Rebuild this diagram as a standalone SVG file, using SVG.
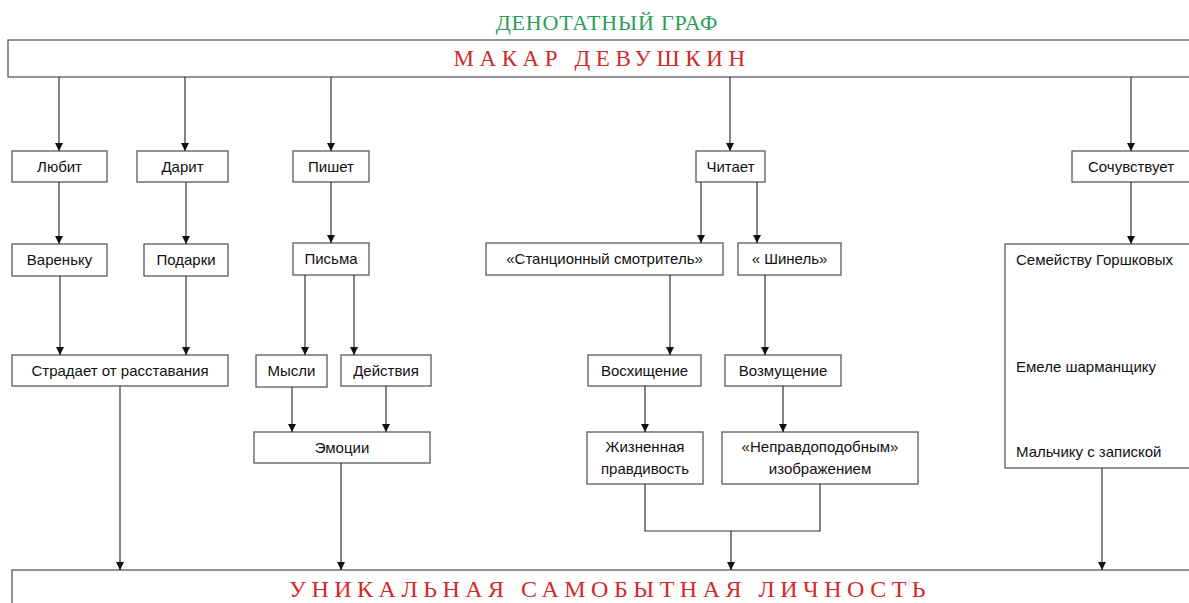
<svg xmlns="http://www.w3.org/2000/svg" width="1189" height="603" viewBox="0 0 1189 603">
<style>
.b{fill:#fff;stroke:#5a5a5a;stroke-width:1.3}
.t{font-family:"Liberation Sans",Arial,sans-serif;font-size:15px;fill:#111;text-anchor:middle}
.tl{font-family:"Liberation Sans",Arial,sans-serif;font-size:15px;fill:#111}
.c{fill:none;stroke:#333;stroke-width:1.2}
.red{font-family:"Liberation Serif","Times New Roman",serif;fill:#d22a2a;text-anchor:middle}
</style>
<defs>
<marker id="a" viewBox="0 0 10 10" refX="10" refY="5" markerWidth="8" markerHeight="8" markerUnits="userSpaceOnUse" orient="auto">
<path d="M0,0 L10,5 L0,10 z" fill="#111"/>
</marker>
</defs>
<text x="607" y="30" font-family="Liberation Serif,'Times New Roman',serif" font-size="22" letter-spacing="0.8" fill="#2a9d5c" text-anchor="middle">ДЕНОТАТНЫЙ ГРАФ</text>
<g id="top"><rect class="b" x="8" y="40" width="1185" height="37"/><text class="red" x="602" y="66" font-size="23" letter-spacing="5.6">МАКАР ДЕВУШКИН</text></g>
<g id="bottom"><rect class="b" x="12" y="570" width="1181" height="40"/><text class="red" x="610" y="597" font-size="24" letter-spacing="5.5">УНИКАЛЬНАЯ  САМОБЫТНАЯ  ЛИЧНОСТЬ</text></g>
<g id="lyubit"><rect class="b" x="12" y="151" width="95" height="31"/><text class="t" x="59.5" y="172">Любит</text></g>
<g id="darit"><rect class="b" x="137" y="151" width="91" height="31"/><text class="t" x="182.5" y="172">Дарит</text></g>
<g id="pishet"><rect class="b" x="293" y="151" width="76" height="31"/><text class="t" x="331" y="172">Пишет</text></g>
<g id="chitaet"><rect class="b" x="696" y="151" width="69" height="31"/><text class="t" x="730.5" y="172">Читает</text></g>
<g id="sochuvstvuet"><rect class="b" x="1072" y="151" width="120" height="31"/><text class="t" x="1131" y="172">Сочувствует</text></g>
<g id="varenku"><rect class="b" x="12" y="244" width="95" height="32"/><text class="t" x="59.5" y="265">Вареньку</text></g>
<g id="podarki"><rect class="b" x="144" y="244" width="84" height="32"/><text class="t" x="186" y="265">Подарки</text></g>
<g id="pisma"><rect class="b" x="293" y="243" width="76" height="32"/><text class="t" x="331" y="264">Письма</text></g>
<g id="stantsionny"><rect class="b" x="486" y="243" width="237" height="32"/><text class="t" x="604.5" y="264">«Станционный смотритель»</text></g>
<g id="shinel"><rect class="b" x="738" y="243" width="103" height="32"/><text class="t" x="789.5" y="264">« Шинель»</text></g>
<g id="semeystvu"><rect class="b" x="1005" y="244" width="187" height="224"/><text class="tl" x="1016" y="265">Семейству Горшковых</text><text class="tl" x="1016" y="372">Емеле шарманщику</text><text class="tl" x="1016" y="457">Мальчику с запиской</text></g>
<g id="stradaet"><rect class="b" x="12" y="355" width="216" height="31"/><text class="t" x="120" y="376">Страдает от расставания</text></g>
<g id="mysli"><rect class="b" x="256" y="355" width="71" height="32"/><text class="t" x="291.5" y="376">Мысли</text></g>
<g id="deystviya"><rect class="b" x="341" y="355" width="90" height="31"/><text class="t" x="386" y="376">Действия</text></g>
<g id="voskhishchenie"><rect class="b" x="588" y="355" width="113" height="31"/><text class="t" x="644.5" y="376">Восхищение</text></g>
<g id="vozmushchenie"><rect class="b" x="725" y="355" width="116" height="31"/><text class="t" x="783" y="376">Возмущение</text></g>
<g id="emotsii"><rect class="b" x="254" y="432" width="176" height="31"/><text class="t" x="342" y="453">Эмоции</text></g>
<g id="zhiznennaya"><rect class="b" x="587" y="432" width="116" height="52"/><text class="t" x="645" y="452">Жизненная</text><text class="t" x="645" y="474">правдивость</text></g>
<g id="nepravdo"><rect class="b" x="722" y="432" width="196" height="52"/><text class="t" x="820" y="452">«Неправдоподобным»</text><text class="t" x="820" y="474">изображением</text></g>
<g id="connectors">
<path class="c" d="M59,77V151" marker-end="url(#a)"/>
<path class="c" d="M185,77V151" marker-end="url(#a)"/>
<path class="c" d="M331,77V151" marker-end="url(#a)"/>
<path class="c" d="M730,77V151" marker-end="url(#a)"/>
<path class="c" d="M1131,77V151" marker-end="url(#a)"/>
<path class="c" d="M59,182V244" marker-end="url(#a)"/>
<path class="c" d="M186,182V244" marker-end="url(#a)"/>
<path class="c" d="M331,182V243" marker-end="url(#a)"/>
<path class="c" d="M701,182V243" marker-end="url(#a)"/>
<path class="c" d="M757,182V243" marker-end="url(#a)"/>
<path class="c" d="M1131,182V244" marker-end="url(#a)"/>
<path class="c" d="M60,276V355" marker-end="url(#a)"/>
<path class="c" d="M186,276V355" marker-end="url(#a)"/>
<path class="c" d="M305,275V355" marker-end="url(#a)"/>
<path class="c" d="M354,275V355" marker-end="url(#a)"/>
<path class="c" d="M670,275V355" marker-end="url(#a)"/>
<path class="c" d="M765,275V355" marker-end="url(#a)"/>
<path class="c" d="M292,387V432" marker-end="url(#a)"/>
<path class="c" d="M386,386V432" marker-end="url(#a)"/>
<path class="c" d="M645,386V432" marker-end="url(#a)"/>
<path class="c" d="M783,386V432" marker-end="url(#a)"/>
<path class="c" d="M120,386V570" marker-end="url(#a)"/>
<path class="c" d="M341,463V570" marker-end="url(#a)"/>
<path class="c" d="M645,484V531H820V484"/>
<path class="c" d="M731,531V570" marker-end="url(#a)"/>
<path class="c" d="M1102,468V570" marker-end="url(#a)"/>
</g>
</svg>
